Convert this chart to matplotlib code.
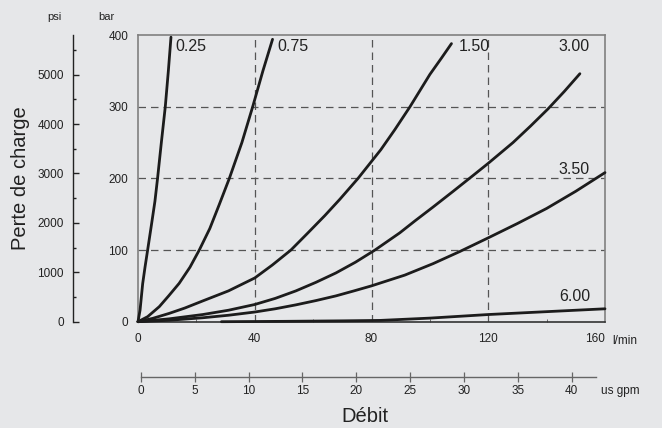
import matplotlib
matplotlib.use("Agg")
import matplotlib.pyplot as plt
import numpy as np

plt.rcParams['font.family'] = ['Liberation Sans', 'DejaVu Sans']

# Curves: flow (l/min) vs pressure drop (bar), one per orifice size
q_025 = [0, 0.7, 1.6, 2.4, 3.3, 4.6, 5.8, 6.7, 8.0, 9.35, 10.4, 11.3]
p_025 = [0, 16, 53, 76, 100, 135, 168, 200, 250, 300, 350, 397]

q_075 = [0, 3.3, 7.3, 10.5, 14.1, 17.8, 21, 24.6, 27.8, 31.3, 35.6, 39.3, 42.8, 46.1]
p_075 = [0, 7, 21, 36, 53.5, 76, 100, 130, 163, 200, 250, 300, 350, 394]

q_150 = [0, 5, 10.7, 16, 22.2, 31, 40, 46, 52.4, 58, 64, 69.2, 75.4, 83.2,
         88, 93.2, 100, 104, 107.4]
p_150 = [0, 4.6, 11.6, 19, 29, 43, 61, 79, 100, 123, 148, 171, 200, 240,
         268, 300, 345, 368, 388]

q_300 = [0, 10.7, 22.2, 31, 40, 47, 54.1, 61, 67.8, 74.5, 81.2, 89.7, 95, 101.1,
         108, 114.8, 120, 128.5, 134.5, 140.5, 146, 151.4]
p_300 = [0, 4, 10, 16, 24, 32.5, 43, 55, 68, 83, 100, 124, 141, 160,
         182, 204, 221, 250, 273, 297, 321, 346]

q_350 = [0, 10.7, 22.2, 31, 40, 47, 54.1, 61, 67.8, 74, 80, 91.4, 101.1, 110.3,
         120, 130, 140, 150, 160]
p_350 = [0, 2, 5.5, 9, 13.5, 18, 23.5, 29.5, 36, 43, 50, 65, 81, 98,
         117, 137, 158, 182, 208]

q_600 = [28.6, 50, 70, 83, 100, 120, 140, 160]
p_600 = [0, 0.5, 1.2, 1.8, 5, 10, 14, 18]

curves = [(q_025, p_025), (q_075, p_075), (q_150, p_150),
          (q_300, p_300), (q_350, p_350), (q_600, p_600)]
curve_labels = ["0.25", "0.75", "1.50", "3.00", "3.50", "6.00"]
label_pos = [(12.9, 384), (47.8, 384), (109.9, 384),
             (144.2, 384), (144.2, 213), (144.2, 34.5)]

bar_ticks = [0, 100, 200, 300, 400]
psi_ticks = [0, 1000, 2000, 3000, 4000, 5000]
lmin_ticks = [0, 40, 80, 120, 160]
gpm_ticks = [0, 5, 10, 15, 20, 25, 30, 35, 40]

bg = '#e6e7e9'
W, H = 662, 428
fig = plt.figure(figsize=(W / 100, H / 100), dpi=100, facecolor=bg)

# main axes (bar vs l/min)
x0, x1, ytop, ybot = 138, 605, 35, 321.7
ax = fig.add_axes([x0 / W, 1 - ybot / H, (x1 - x0) / W, (ybot - ytop) / H])
ax.set_facecolor(bg)
ax.set_xlim(0, 160)
ax.set_ylim(0, 400)
for s in ax.spines.values():
    s.set_color('#808080')
    s.set_linewidth(1.2)
ax.spines['bottom'].set_color('#333333')

ax.set_yticks(bar_ticks)
ax.set_xticks(lmin_ticks)
ax.tick_params(axis='both', which='major', length=0, labelsize=8.5, colors='#222222')
ax.tick_params(axis='y', pad=7)
ax.tick_params(axis='x', pad=8)
ax.xaxis.get_ticklabels()[-1].set_ha('right')
ax.set_xticks([20, 60, 100, 140], minor=True)
ax.tick_params(axis='x', which='minor', direction='in', length=2.5, color='#555555')

for gx in [40, 80, 120]:
    ax.axvline(gx, color='#555555', lw=0.9, dashes=(6, 4), zorder=1)
for gy in [100, 200, 300]:
    ax.axhline(gy, color='#555555', lw=0.9, dashes=(6, 4), zorder=1)

for (q, p) in curves:
    ax.plot(q, p, color='#1c1c1c', lw=2.0, solid_capstyle='round',
            solid_joinstyle='round', zorder=3, clip_on=False)
for lab, (lx, ly) in zip(curve_labels, label_pos):
    ax.text(lx, ly, lab, fontsize=11.5, color='#222222', ha='left', va='center')

ax.text(1.015, -0.045, "l/min", transform=ax.transAxes, fontsize=8.5,
        color='#222222', ha='left', va='top')

# psi axis on the far left
axp = fig.add_axes([73 / W, 1 - ybot / H, 0.0001, (ybot - ytop) / H])
axp.patch.set_visible(False)
for k in ['top', 'right', 'bottom']:
    axp.spines[k].set_visible(False)
axp.spines['left'].set_color('#222222')
axp.spines['left'].set_linewidth(1.0)
axp.set_ylim(0, 400 * 14.5038)
axp.set_xticks([])
axp.set_yticks(psi_ticks)
axp.set_yticks(np.arange(500, 5800, 1000), minor=True)
axp.tick_params(axis='y', which='major', direction='in', length=4.5, width=1,
                pad=6.5, labelsize=8.5, colors='#222222')
axp.tick_params(axis='y', which='minor', direction='in', length=2.5, width=1, color='#222222')

fig.text(54.5 / W, 1 - 17 / H, "psi", fontsize=8, color='#222222', ha='center', va='center')
fig.text(106 / W, 1 - 17 / H, "bar", fontsize=8, color='#222222', ha='center', va='center')
fig.text(21 / W, 1 - 178 / H, "Perte de charge", fontsize=14.5, color='#222222',
         rotation=90, ha='center', va='center')

# us gpm axis under the plot
g0, g1, gy_ = 141, 596, 376.7
axg = fig.add_axes([g0 / W, 1 - gy_ / H, (g1 - g0) / W, 0.0001])
axg.patch.set_visible(False)
for k in ['top', 'right', 'left']:
    axg.spines[k].set_visible(False)
axg.spines['bottom'].set_color('#666666')
axg.spines['bottom'].set_linewidth(1.0)
axg.set_xlim(0, 160 / 3.785)
axg.set_yticks([])
axg.set_xticks(gpm_ticks)
axg.tick_params(axis='x', direction='inout', length=7, width=0.9, color='#666666',
                pad=2.5, labelsize=8.5, labelcolor='#222222')

fig.text(601 / W, 1 - 391 / H, "us gpm", fontsize=8.5, color='#222222', ha='left', va='center')
fig.text(365 / W, 1 - 417 / H, "Débit", fontsize=14.5, color='#222222', ha='center', va='center')

fig.savefig("out.png", dpi=100, facecolor=bg)
